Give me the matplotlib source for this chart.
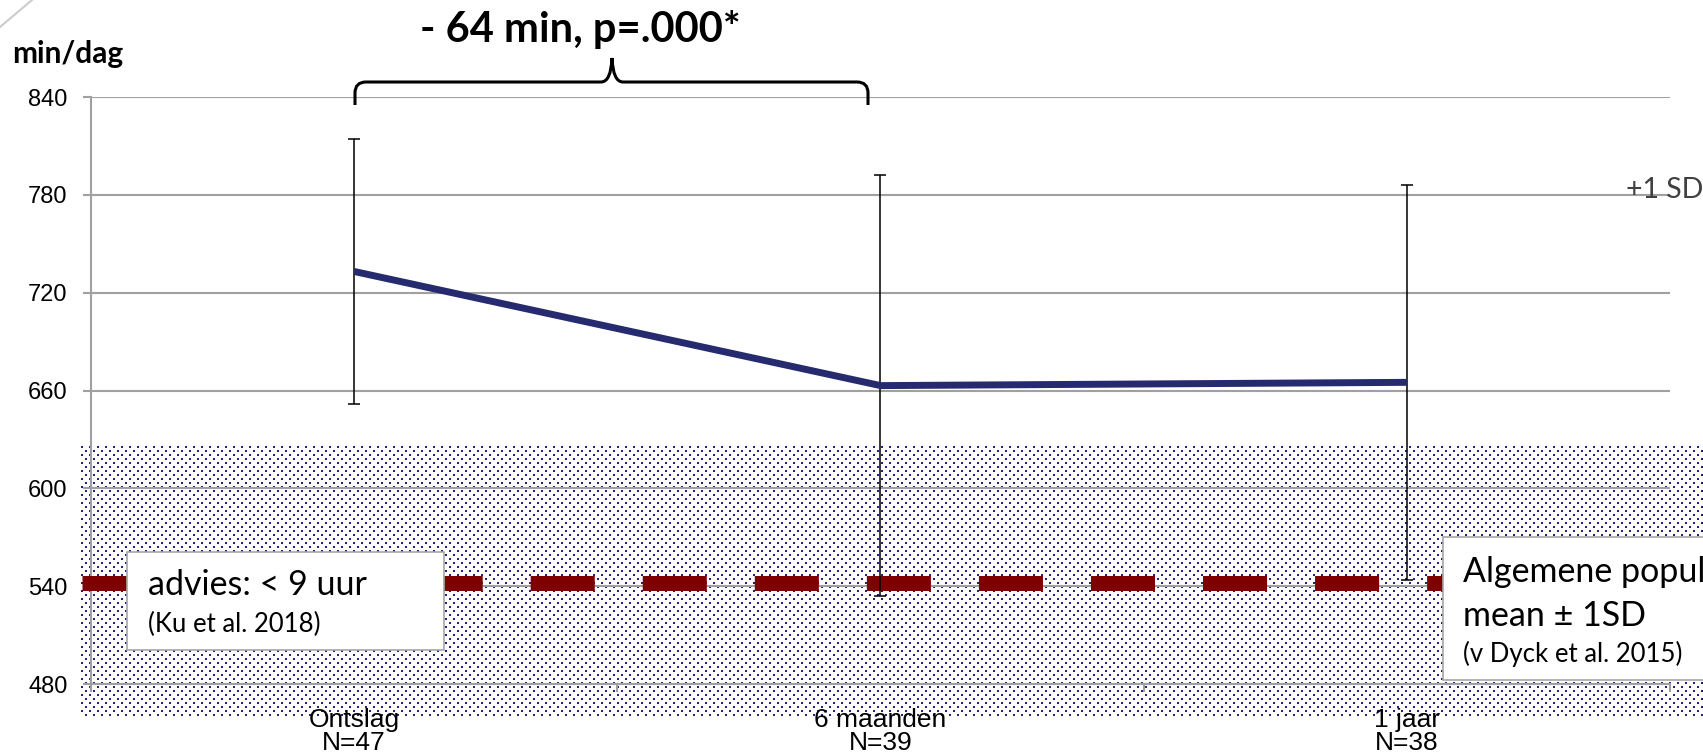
import numpy as np
import matplotlib
matplotlib.use('Agg')
import matplotlib.pyplot as plt
from matplotlib.patches import Rectangle, PathPatch
from matplotlib.path import Path
from matplotlib.lines import Line2D

# --- data ---
moments = ['Ontslag', '6 maanden', '1 jaar']
n_patients = [47, 39, 38]
mean_min = [733, 663, 665]
sd_min = [81, 129, 121]
advies_min = 542          # advice line "< 9 uur"
pop_low, pop_high = 460, 626   # general population band
yticks = [480, 540, 600, 660, 720, 780, 840]
diff_text = '- 64 min, p=.000*'

plt.rcParams['font.family'] = 'Liberation Sans'

W, H = 1703, 756
def fx(px):
    return px / W
def fy(py):
    return 1 - py / H

fig = plt.figure(figsize=(W / 100, H / 100), dpi=100)
ax = fig.add_axes([fx(91), fy(684), (1670 - 91) / W, (684 - 97) / H])
ax.set_facecolor('none')

x = np.arange(len(moments))
grid_c = '#a0a0a0'

# error bars and mean line
ax.errorbar(x, mean_min, yerr=sd_min, fmt='none', ecolor='black',
            elinewidth=1.1, capsize=4.3, capthick=1.1, zorder=4)
ax.plot(x, mean_min, color='#262a6e', lw=5, solid_capstyle='butt', zorder=5)

# advice line
ax.axhline(advies_min, xmin=-0.0057, xmax=1.1, color='#7f0000', lw=10.8,
           ls=(0, (4.27, 3.2)), dash_capstyle='butt', clip_on=False, zorder=3)

ax.set_xlim(-0.5, 2.5)
ax.set_ylim(480, 840)
ax.set_yticks(yticks)
ax.yaxis.grid(True, color=grid_c, lw=1.5)
ax.set_axisbelow(True)
for s in ['top', 'right']:
    ax.spines[s].set_visible(False)
for s in ['left', 'bottom']:
    ax.spines[s].set_color(grid_c)
    ax.spines[s].set_linewidth(1.5)

ax.tick_params(axis='y', length=5.8, width=1.5, color=grid_c, labelsize=17, pad=11)
ax.set_xticks(x)
ax.set_xticklabels([f'{m}\nN={n}' for m, n in zip(moments, n_patients)],
                   fontsize=19, linespacing=0.95)
ax.tick_params(axis='x', which='major', length=0, pad=17)
ax.set_xticks(np.arange(-0.5, 3, 1), minor=True)
ax.tick_params(axis='x', which='minor', length=5.8, width=1.5, color=grid_c)

# dotted band for general population mean +/- 1SD
_, y_lo = ax.transData.transform((0, pop_low))
_, y_hi = ax.transData.transform((0, pop_high))
x_lo = ax.transAxes.transform((-0.0063, 0))[0]
rows = int(round(y_hi - y_lo))
cols = W - int(round(x_lo))
rr, cc = np.mgrid[0:rows, 0:cols]
dots = (rr % 4 < 2) & ((cc - 4 * ((rr // 4) % 2)) % 8 < 2)
tex = np.zeros((rows, cols, 4))
tex[dots] = [0.13, 0.13, 0.48, 1.0]
fig.figimage(tex, xo=int(round(x_lo)), yo=int(round(y_lo)), origin='upper', zorder=-1)

# text boxes
fig.add_artist(Rectangle((fx(127), fy(650)), (444 - 127) / W, (650 - 552) / H,
                         transform=fig.transFigure, facecolor='white',
                         edgecolor='#a6a6a6', lw=1.2, zorder=10))
fig.text(fx(148), fy(595), 'advies: < 9 uur', fontsize=24.5, family='Lato',
         va='baseline', zorder=11)
fig.text(fx(148), fy(632), '(Ku et al. 2018)', fontsize=18.5, family='Lato',
         va='baseline', zorder=11)

fig.add_artist(Rectangle((fx(1443), fy(680)), (1760 - 1443) / W, (680 - 537) / H,
                         transform=fig.transFigure, facecolor='white',
                         edgecolor='#a6a6a6', lw=1.2, zorder=10))
fig.text(fx(1463), fy(582), 'Algemene populatie', fontsize=24.5, family='Lato',
         va='baseline', zorder=11)
fig.text(fx(1463), fy(626), 'mean \u00b1 1SD', fontsize=24.5, family='Lato',
         va='baseline', zorder=11)
fig.text(fx(1463), fy(662), '(v Dyck et al. 2015)', fontsize=18.5, family='Lato',
         va='baseline', zorder=11)

fig.text(fx(1626), fy(198), '+1 SD', fontsize=20.5, family='Lato', color='#404040',
         va='baseline', zorder=11)

# title / axis unit
fig.text(fx(580), fy(42), diff_text, fontsize=30, family='Lato', fontweight='bold',
         ha='center', va='baseline')
fig.text(fx(12), fy(63), 'min/dag', fontsize=21.5, family='Lato', fontweight='bold',
         va='baseline')

# curly brace
pts = [(355, 105), (355, 93), (355, 82), (366, 82), (601, 82), (611, 82), (612, 58),
       (613, 82), (623, 82), (857, 82), (868, 82), (868, 93), (868, 105)]
codes = [Path.MOVETO, Path.LINETO, Path.CURVE3, Path.CURVE3, Path.LINETO,
         Path.CURVE3, Path.CURVE3, Path.CURVE3, Path.CURVE3, Path.LINETO,
         Path.CURVE3, Path.CURVE3, Path.LINETO]
brace = Path([(fx(a), fy(b)) for a, b in pts], codes)
fig.add_artist(PathPatch(brace, fill=False, lw=2.2, edgecolor='black',
                         transform=fig.transFigure))

# faint slide corner line
fig.add_artist(Line2D([0, fx(32)], [fy(27), 1], color='#cccccc', lw=1.5,
                      transform=fig.transFigure))

fig.savefig('out.png', dpi=100)
